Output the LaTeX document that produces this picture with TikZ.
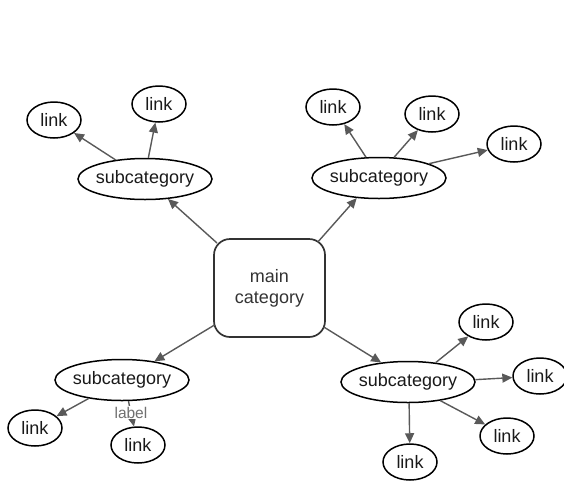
\documentclass[tikz,border=0pt]{standalone}
\usepackage{fontspec}
\setmainfont{Liberation Sans}
\usetikzlibrary{shapes.geometric,arrows.meta}
\definecolor{edgegray}{HTML}{595959}
\definecolor{labelgray}{HTML}{707070}
\newcommand\ctext[1]{\makebox[0pt]{#1}}
\begin{document}
\begin{tikzpicture}[x=1pt,y=-1pt,
  every node/.style={font=\fontsize{18}{21}\selectfont, text=black!90},
  linkbox/.style={ellipse, draw=black, line width=1.5pt, minimum width=54pt,
    minimum height=36pt, inner sep=0pt},
  subbox/.style={ellipse, draw=black, line width=1.5pt, minimum width=134pt,
    minimum height=41pt, inner sep=0pt},
  mainbox/.style={rectangle, rounded corners=16pt, draw=black!80, line width=1.7pt,
    minimum width=111pt, minimum height=98pt, align=center, text=black!80, outer sep=0pt},
  conn/.style={draw=edgegray, line width=1.4pt, -{Triangle[length=10pt,width=9pt]}},
  edgelabel/.style={font=\fontsize{15.5}{18}\selectfont, text=labelgray, fill=white, inner sep=1pt},
]
\useasboundingbox (0,0) rectangle (564,482);

% central node
\node[mainbox] (main) at (269.5,288) {main\\category};

% subcategories
\node[subbox] (stl) at (145,179) {\ctext{subcategory}};
\node[subbox] (str) at (379,178) {\ctext{subcategory}};
\node[subbox] (sbl) at (122,380) {\ctext{subcategory}};
\node[subbox] (sbr) at (408,382) {\ctext{subcategory}};

% links, top left
\node[linkbox] (la) at (54,120) {link};
\node[linkbox] (lb) at (159,104) {link};
% links, top right
\node[linkbox] (lc) at (333,107) {link};
\node[linkbox] (ld) at (432,114) {link};
\node[linkbox] (le) at (514,144) {link};
% links, bottom left
\node[linkbox] (lf) at (35,428) {link};
\node[linkbox] (lg) at (138,445) {link};
% links, bottom right
\node[linkbox] (lh) at (486,322) {link};
\node[linkbox] (li) at (540,376) {link};
\node[linkbox] (lj) at (507,436) {link};
\node[linkbox] (lk) at (410,462) {link};

% main category to subcategories
\draw[conn] ([xshift=3pt,yshift=-4pt]main.north west) -- (stl.-41);
\draw[conn] ([xshift=-7pt,yshift=-2.8pt]main.north east) -- (str.222);
\draw[conn] ([xshift=0.5pt,yshift=12pt]main.south west) -- (sbl.30);
\draw[conn] ([xshift=-1.2pt,yshift=10pt]main.south east) -- (sbr.144.6);

% subcategories to links
\draw[conn] (stl.147.7) -- (la);
\draw[conn] (stl.81.5) -- (lb);
\draw[conn] (str.122.5) -- (lc);
\draw[conn] (str.54) -- (ld);
\draw[conn] (str.16.2) -- (le);
\draw[conn] (sbl.209.8) -- (lf);
\draw[conn] (sbl.-73) -- node[edgelabel, pos=0.45] (lbl) {label} (lg);
\draw[conn] (sbr.35.6) -- (lh);
\draw[conn] (sbr.2.3) -- (li);
\draw[conn] (sbr.-30.3) -- (lj);
\draw[conn] (sbr.-87.3) -- (lk);
\end{tikzpicture}
\end{document}
